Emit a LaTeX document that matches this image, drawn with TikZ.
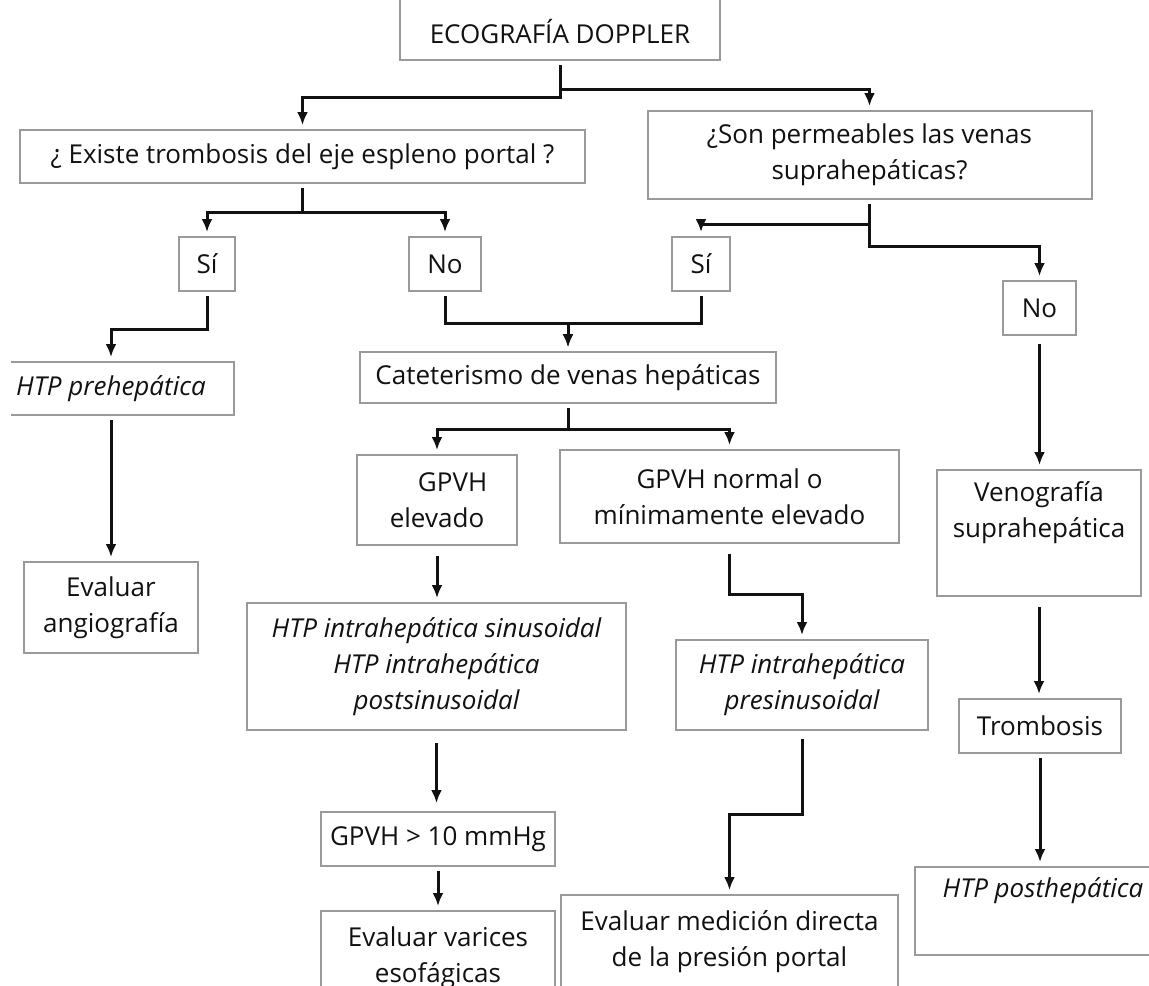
\documentclass[tikz,border=0pt]{standalone}
\usepackage{fontspec}
\setmainfont{Open Sans}
\usepackage{tikz}
\usetikzlibrary{arrows.meta,positioning,calc}
\definecolor{cInk}{HTML}{111111}
\definecolor{cEdge}{HTML}{9A9A9A}
\tikzset{
  >={Latex[length=6.5pt,width=5.5pt]},
  box/.style ={draw=cEdge,line width=1pt,fill=white,align=center,inner sep=2pt,
               font=\fontsize{13}{18}\selectfont,text=cInk},
  ibox/.style={box,font=\fontsize{13}{18}\selectfont\itshape},
  wh/.style 2 args={minimum width=#1*0.5pt,minimum height=#2*0.5pt},
  ar/.style  ={->,line width=1.5pt,cInk,shorten >=2pt,shorten <=2pt},
}

\begin{document}
\begin{tikzpicture}[x=0.5pt,y=-0.5pt]
\useasboundingbox (0,0) rectangle (1149,985);
% first level
\node[box,wh={320}{0},anchor=base,text height=26pt,text depth=6.5pt] (eco) at (560,43) {ECOGRAFÍA DOPPLER};
\node[box,wh={565}{53}] (exis) at (302.5,156.5) {¿ Existe trombosis del eje espleno portal ?};
\node[box,wh={444}{88}] (son) at (869.5,155) {¿Son permeables las venas\\suprahepáticas?};
\draw[ar] (eco.south) -- ++(0,36) -| (exis.north);
\draw[ar] (eco.south) -- ++(0,28) -| (son.north);
% answers
\node[box,wh={56}{54}] (si1) at (207,264) {Sí};
\node[box,wh={72}{54}] (no1) at (445,264) {No};
\node[box,wh={58}{54}] (si2) at (701,264) {Sí};
\node[box,wh={73}{54}] (no2) at (1039.5,308) {No};
\draw[ar] (exis.south) -- ++(0,28) -| (si1.north);
\draw[ar] (exis.south) -- ++(0,28) -| (no1.north);
\draw[ar] (son.south) -- ++(0,24) -| (si2.north);
\draw[ar] (son.south) -- ++(0,46) -| (no2.north);
% left branch
\begin{scope}
  \clip (11,340) rectangle (260,440);
  \node[ibox,wh={246}{53}] (pre) at (111,388.5) {HTP prehepática};
\end{scope}
\node[box,wh={174}{91}] (ang) at (111,607.5) {Evaluar\\angiografía};
\draw[ar] (si1.south) -- ++(0,37) -| (pre.north);
\draw[ar] (pre.south) -- (pre.south |- ang.north);
% cateterismo
\node[box,wh={416}{51}] (cat) at (568,377.5) {Cateterismo de venas hepáticas};
\draw[ar] (no1.south) -- ++(0,31) -| (cat.north);
\draw[ar] (si2.south) -- ++(0,31) -| (cat.north);
\node[box,wh={160}{90}] (gel) at (437,500) {\hspace*{1.2em}GPVH\\elevado};
\node[box,wh={339}{93}] (gno) at (729.5,496.5) {GPVH normal o\\mínimamente elevado};
\draw[ar] (cat.south) -- ++(0,25) -| (gel.north);
\draw[ar] (cat.south) -- ++(0,25) -| (gno.north);
\node[ibox,wh={379}{127}] (sin) at (436.5,666.5) {HTP intrahepática sinusoidal\\HTP intrahepática\\postsinusoidal};
\node[ibox,wh={252}{90}] (pres) at (802,685) {HTP intrahepática\\presinusoidal};
\draw[ar,shorten <=5pt] (gel.south) -- (gel.south |- sin.north);
\draw[ar,shorten <=5pt] (gno.south) -- ++(0,50) -| (pres.north);
\node[box,wh={234}{54}] (g10) at (438,839) {GPVH > 10 mmHg};
\node[box,wh={234}{94}] (var) at (438,958) {Evaluar varices\\esofágicas};
\node[box,wh={337}{94}] (med) at (729.5,942) {Evaluar medición directa\\de la presión portal};
\draw[ar,shorten <=6pt,shorten >=4pt] (sin.south) -- (sin.south |- g10.north);
\draw[ar] (g10.south) -- (g10.south |- var.north);
\draw[ar,shorten <=4pt] (pres.south) -- ++(0,83) -| (med.north);
% right branch
\node[box,wh={204}{126}] (ven) at (1039,533) {Venografía\\suprahepática\\\strut};
\node[box,wh={162}{54}] (trom) at (1040,726) {Trombosis};
\node[ibox,wh={256}{88}] (post) at (1043,911) {HTP posthepática\\\strut};
\draw[ar,shorten <=4pt] (no2.south) -- (no2.south |- ven.north);
\draw[ar,shorten <=5pt] (ven.south) -- (ven.south |- trom.north);
\draw[ar] (trom.south) -- (trom.south |- post.north);
\end{tikzpicture}
\end{document}
